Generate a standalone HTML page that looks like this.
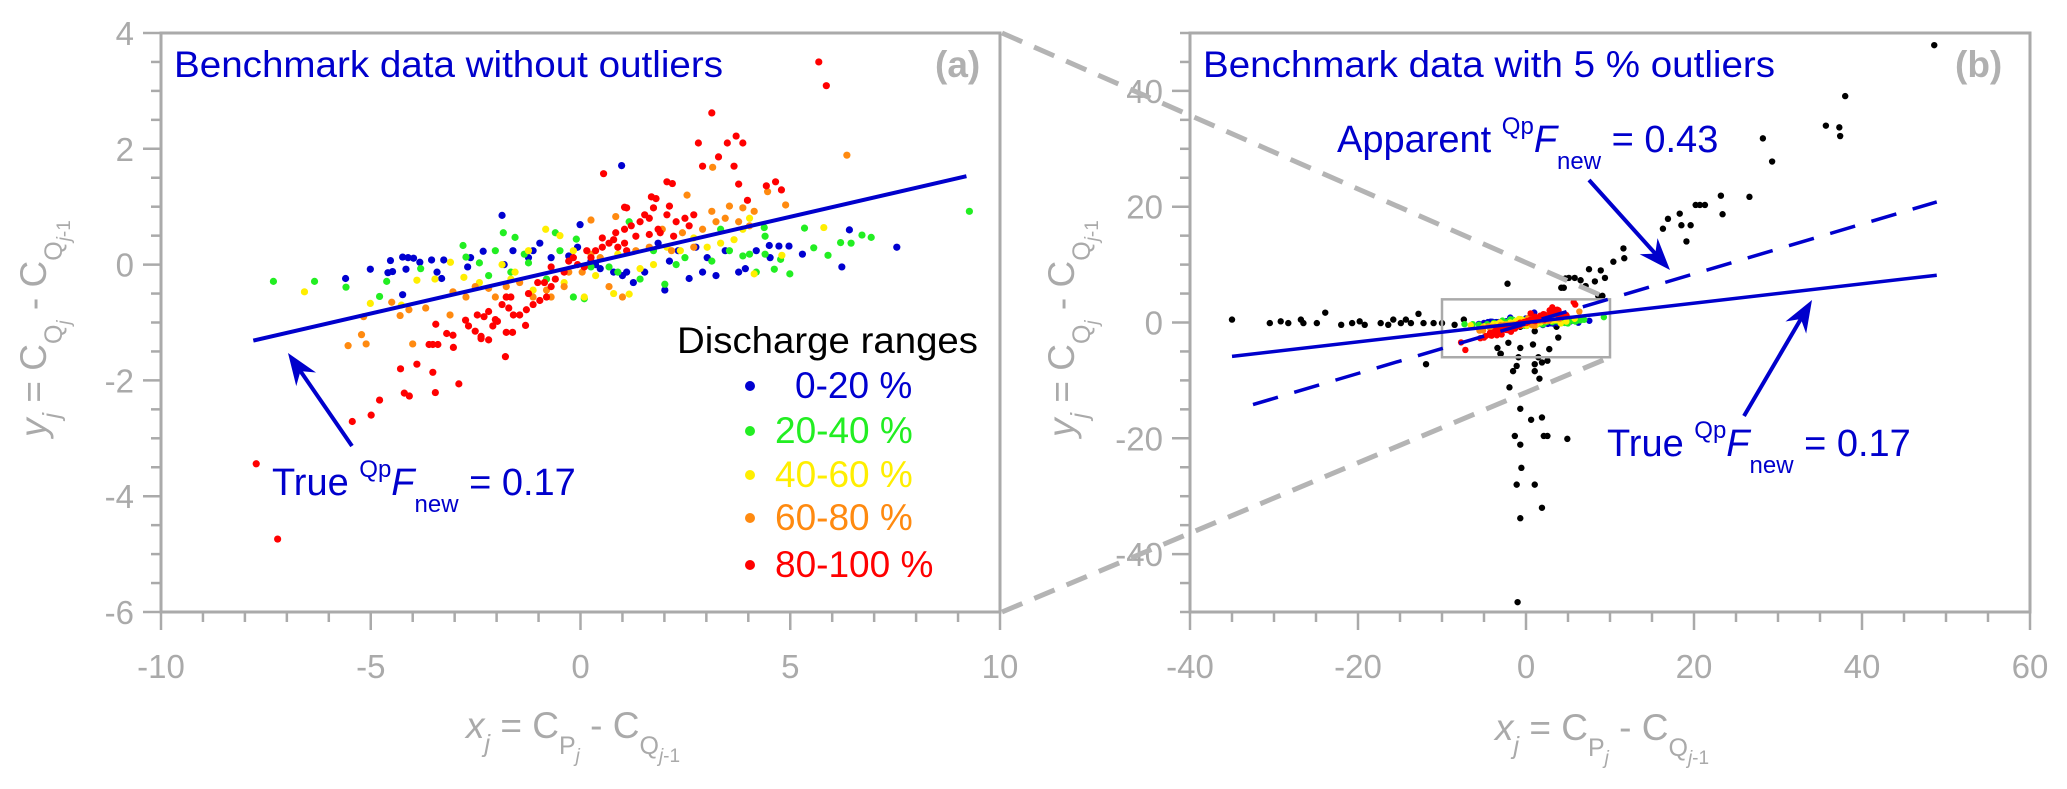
<!DOCTYPE html>
<html><head><meta charset="utf-8"><style>
html,body{margin:0;padding:0;background:#fff;}
svg{display:block;font-family:"Liberation Sans",Arial,sans-serif;}
</style></head><body>
<svg id="fig" width="2067" height="789" viewBox="0 0 2067 789" xmlns="http://www.w3.org/2000/svg">
<g id="panelA"></g>
<g id="panelB"></g>
<g id="connectors"></g>
<g id="annot"></g>
</svg>
<script>
// ---- data (x, y) per discharge range ----
const range0to20 = [[-5.6,-0.24],[-5.01,-0.08],[-4.53,0.07],[-4.24,0.13],[-4.11,0.12],[-3.98,0.11],[-3.83,0.04],[-4.59,-0.14],[-4.48,-0.12],[-4.16,-0.08],[-4.24,-0.52],[-3.55,0.08],[-3.26,0.08],[-3.42,-0.13],[-3.31,-0.24],[-2.69,-0.04],[-2.32,0.23],[-1.87,0.85],[-1.82,0.0],[-1.61,0.24],[-1.13,0.24],[-0.97,0.37],[-0.7,0.12],[-0.28,0.15],[-0.01,0.69],[0.98,1.71],[-0.07,0.3],[0.25,0.06],[0.47,-0.07],[0.79,-0.13],[1.0,-0.19],[1.26,-0.31],[1.53,-0.13],[2.01,-0.44],[2.12,0.06],[2.33,0.24],[2.59,-0.24],[2.91,-0.13],[3.23,-0.19],[3.45,0.24],[3.77,-0.13],[3.93,-0.07],[4.19,0.24],[3.02,0.12],[2.75,0.3],[1.1,-0.13],[1.85,0.37],[0.36,0.0],[-1.24,0.12],[-2.62,0.12],[6.41,0.6],[7.54,0.3],[6.23,-0.04],[5.29,0.18],[4.97,0.32],[4.73,0.32],[4.52,0.12],[4.5,0.33]];
const range20to40 = [[-7.32,-0.29],[-6.34,-0.29],[-5.59,-0.39],[-4.62,-0.29],[-4.79,-0.55],[-3.81,-0.07],[-2.8,0.33],[-2.73,0.13],[-2.03,0.24],[-1.84,0.55],[-1.56,0.47],[-1.66,-0.13],[-2.41,0.03],[-1.24,0.03],[-0.6,0.55],[-0.1,0.44],[0.25,-0.04],[0.68,-0.04],[1.16,0.74],[0.89,-0.13],[1.42,-0.25],[1.74,0.24],[2.01,-0.34],[2.28,0.0],[2.49,0.12],[3.13,0.06],[3.34,0.61],[3.55,0.24],[3.87,0.15],[4.03,0.18],[4.19,-0.13],[-0.49,0.24],[-0.81,-0.25],[-2.19,-0.19],[-1.34,0.18],[0.09,-0.59],[-0.17,-0.56],[5.34,0.63],[5.56,0.29],[5.9,0.16],[6.2,0.38],[6.45,0.37],[6.71,0.51],[6.93,0.47],[4.99,-0.16],[4.62,-0.08],[4.77,0.09],[4.4,0.18],[4.4,0.49],[4.38,0.64],[9.27,0.92]];
const range40to60 = [[-6.58,-0.47],[-5.01,-0.67],[-4.27,-0.7],[-3.9,-0.27],[-3.47,-0.25],[-3.1,0.04],[-2.78,-0.22],[-2.41,-0.31],[-1.66,-0.25],[-1.56,-0.13],[-1.24,0.24],[-0.83,0.61],[-0.49,0.5],[-0.39,-0.31],[0.09,-0.56],[0.36,-0.19],[0.79,-0.5],[1.16,-0.51],[1.42,-0.07],[1.74,0.0],[2.06,0.3],[2.38,0.24],[2.7,0.46],[3.02,0.3],[3.34,0.37],[3.66,0.43],[3.87,0.61],[4.03,0.8],[4.14,-0.16],[0.89,0.18],[-1.13,-0.44],[-1.87,0.0],[-0.17,0.24],[5.8,0.64],[4.8,0.16]];
const range60to80 = [[-5.54,-1.4],[-5.22,-1.21],[-5.11,-1.37],[-5.17,-0.9],[-4.5,-0.65],[-4.3,-0.88],[-4.0,-1.37],[-4.09,-0.78],[-3.69,-0.75],[-3.11,-0.87],[-3.04,-0.47],[-2.73,-0.56],[-2.51,-0.38],[-2.19,-0.41],[-2.03,-0.56],[-1.77,-0.38],[-1.45,-0.31],[-1.13,-0.56],[-0.81,-0.44],[-0.7,-0.56],[-0.39,-0.38],[-0.28,-0.13],[0.04,-0.13],[0.25,0.18],[0.25,0.77],[0.47,0.12],[0.84,0.83],[1.0,-0.56],[1.32,0.24],[1.64,0.3],[1.95,0.61],[2.17,0.24],[2.43,0.55],[2.54,1.2],[2.7,0.3],[2.91,0.61],[3.13,0.92],[3.23,0.74],[3.45,0.8],[3.55,1.01],[3.77,0.74],[3.87,0.98],[4.03,0.67],[4.14,0.92],[3.15,1.68],[0.68,-0.38],[-1.77,-0.56],[6.35,1.89],[4.89,1.03],[4.46,1.26]];
const range80to100 = [[-7.73,-3.44],[-7.22,-4.74],[-5.44,-2.71],[-4.99,-2.6],[-4.79,-2.34],[-4.29,-1.8],[-3.9,-1.72],[-4.2,-2.22],[-4.08,-2.27],[-3.52,-1.86],[-3.46,-2.21],[-2.9,-2.06],[-1.79,-1.59],[-3.61,-1.38],[-3.52,-1.38],[-3.4,-1.38],[-3.03,-1.43],[-3.19,-1.19],[-3.04,-1.22],[-3.45,-1.03],[-2.74,-0.96],[-2.67,-1.06],[-2.51,-1.15],[-2.37,-1.24],[-2.37,-1.28],[-1.77,-1.17],[-1.62,-1.17],[-1.31,-1.05],[-2.3,-0.9],[-2.19,-0.81],[-2.03,-0.95],[-1.98,-0.98],[-2.46,-0.87],[-1.87,-0.69],[-1.71,-0.75],[-1.6,-0.87],[-1.77,-0.56],[-1.45,-0.87],[-1.29,-0.78],[-1.13,-0.69],[-0.97,-0.62],[-0.81,-0.56],[-0.7,-0.38],[-0.86,-0.31],[-0.39,-0.13],[-0.28,0.06],[-0.07,0.0],[0.09,-0.04],[0.25,0.12],[0.36,0.24],[0.52,0.3],[0.68,0.37],[0.89,0.3],[1.05,0.37],[1.1,0.24],[0.79,0.43],[1.21,0.67],[1.42,0.74],[1.53,0.86],[1.64,0.8],[1.8,1.14],[1.74,0.98],[1.85,0.61],[2.06,0.86],[2.12,1.01],[2.28,0.74],[2.49,0.8],[2.59,0.67],[2.7,0.86],[2.81,2.1],[2.91,1.7],[3.13,2.62],[3.29,1.86],[3.5,2.1],[3.66,1.7],[3.71,2.22],[3.77,1.39],[3.87,2.1],[3.98,1.11],[0.55,1.57],[1.05,0.99],[1.1,0.98],[2.06,1.43],[2.19,1.4],[1.69,1.17],[-2.19,-1.3],[-2.09,-1.06],[-1.66,-0.56],[-1.24,-0.5],[-1.02,-0.31],[-0.6,-0.25],[-0.7,-0.04],[-0.17,0.12],[0.15,0.24],[0.52,0.46],[0.84,0.55],[1.05,0.61],[1.32,0.49],[1.64,0.52],[1.9,0.55],[2.22,0.49],[5.68,3.5],[5.86,3.09],[4.65,1.43],[4.79,1.29],[4.43,1.36]];
const outliers = [[-35.0,0.5],[-30.5,-0.1],[-29.2,0.2],[-28.3,-0.1],[-26.8,0.5],[-26.5,-0.1],[-24.9,-0.1],[-23.9,1.7],[-22.0,-0.4],[-20.7,-0.1],[-19.8,0.2],[-19.2,-0.4],[-17.3,-0.1],[-16.4,-0.4],[-15.8,0.5],[-14.9,-0.1],[-14.3,0.5],[-13.7,-0.1],[-12.8,1.5],[-12.2,-0.1],[-11.0,-0.1],[-10.0,-0.1],[-8.5,-0.4],[-7.4,0.5],[-11.9,-7.2],[-2.2,6.7],[48.6,47.9],[38.0,39.1],[35.7,34.0],[37.3,33.7],[37.4,32.2],[28.2,31.8],[29.3,27.8],[23.2,21.9],[26.6,21.7],[20.2,20.3],[20.7,20.3],[21.3,20.3],[23.4,18.7],[16.9,17.9],[18.3,18.8],[16.3,16.2],[18.5,16.8],[19.6,16.8],[19.1,14.0],[11.6,12.8],[10.4,10.5],[11.7,11.1],[7.5,9.2],[8.9,9.0],[8.2,7.1],[9.4,7.7],[6.5,7.3],[5.8,7.7],[5.1,7.7],[4.7,7.6],[4.2,6.0],[4.5,6.0],[7.1,6.3],[8.6,4.6],[9.1,4.6],[3.63,-0.74],[3.84,-2.6],[1.04,-1.5],[-0.68,-0.74],[0.83,-3.8],[-0.68,-4.4],[2.77,-4.6],[-0.9,-6.0],[1.47,-6.0],[2.55,-6.6],[1.9,-6.9],[1.04,-7.2],[-1.11,-7.5],[-1.54,-8.4],[1.04,-8.4],[1.6,-9.7],[-1.97,-11.2],[-0.68,-14.9],[0.61,-16.8],[1.9,-16.4],[-1.33,-19.6],[-0.68,-21.1],[2.12,-19.6],[2.55,-19.6],[4.92,-20.1],[-0.55,-25.1],[-1.11,-28.0],[1.04,-28.0],[1.9,-32.0],[-0.68,-33.8],[-3.05,-5.4],[-3.4,-4.4],[-2.1,-3.5],[-3.0,-5.4],[-1.0,-48.3]];
const fitTrueSlope = 0.167, fitTrueIntercept = -0.01;
const fitApparentSlope = 0.43, fitApparentIntercept = -0.2;
const lineAxRange = [-7.8, 9.2];
const lineBxRange = [-35.0, 48.9];
const lineBappRange = [-32.5, 48.9];
const ticksAx = [-10,-5,0,5,10], ticksAy = [4,2,0,-2,-4,-6];
const ticksBx = [-40,-20,0,20,40,60], ticksBy = [40,20,0,-20,-40];
const legendLabels = ["0-20 %","20-40 %","40-60 %","60-80 %","80-100 %"];
const colors = ["#0000d0","#22ee22","#ffee00","#ff8a10","#ff0000"];
const series = [range0to20, range20to40, range40to60, range60to80, range80to100];

const NS="http://www.w3.org/2000/svg";
function mk(tag, attrs, parent){const e=document.createElementNS(NS,tag);for(const k in attrs)e.setAttribute(k,attrs[k]);parent.appendChild(e);return e;}
const GRAY="#aaaaaa", BLUE="#0000cc";

function panel(g, o){
  const sx=v=>o.x0+(v-o.xmin)/(o.xmax-o.xmin)*(o.x1-o.x0);
  const sy=v=>o.y1-(v-o.ymin)/(o.ymax-o.ymin)*(o.y1-o.y0);
  // minor/major ticks
  for(let v=o.xmin; v<=o.xmax+1e-9; v+=o.xminor){
    const major=Math.abs(v/o.xmajor-Math.round(v/o.xmajor))<1e-6;
    const t=mk('line',{x1:sx(v),x2:sx(v),y1:o.y1,y2:o.y1+(major?18:10),stroke:GRAY,'stroke-width':2.5},g);
    
    
  }
  for(let v=o.ymin; v<=o.ymax+1e-9; v+=o.yminor){
    const major=Math.abs(v/o.ymajor-Math.round(v/o.ymajor))<1e-6;
    const t=mk('line',{y1:sy(v),y2:sy(v),x1:o.x0,x2:o.x0-(major?18:10),stroke:GRAY,'stroke-width':2.5},g);
    
    
  }
  o.xt.forEach(v=>{const t=mk('text',{x:sx(v),y:678,'text-anchor':'middle','font-size':33,fill:GRAY},g);t.textContent=v;
    
    });
  o.yt.forEach(v=>{const t=mk('text',{x:o.x0-27,y:sy(v)+12,'text-anchor':'end','font-size':33,fill:GRAY},g);t.textContent=v;
    
    });
  const f=mk('rect',{x:o.x0,y:o.y0,width:o.x1-o.x0,height:o.y1-o.y0,fill:'none',stroke:GRAY,'stroke-width':3},g);
  
  
  return {sx,sy};
}

const gA=document.getElementById('panelA'), gB=document.getElementById('panelB');
const A=panel(gA,{x0:161,x1:1000,y0:33,y1:612,xmin:-10,xmax:10,ymin:-6,ymax:4,xminor:1,xmajor:5,yminor:0.5,ymajor:2,xt:ticksAx,yt:ticksAy});
const B=panel(gB,{x0:1190,x1:2030,y0:33,y1:612,xmin:-40,xmax:60,ymin:-50,ymax:50,xminor:5,xmajor:20,yminor:5,ymajor:20,xt:ticksBx,yt:ticksBy});

// panel A points
series.forEach((s,i)=>s.forEach(p=>{
  const c=mk('circle',{cx:A.sx(p[0]),cy:A.sy(p[1]),r:3.6,fill:colors[i]},gA);
  
  
}));
// true line A
{const l=mk('line',{x1:A.sx(lineAxRange[0]),y1:A.sy(fitTrueSlope*lineAxRange[0]+fitTrueIntercept),x2:A.sx(lineAxRange[1]),y2:A.sy(fitTrueSlope*lineAxRange[1]+fitTrueIntercept),stroke:BLUE,'stroke-width':4},gA);
 
 }

// panel B
outliers.forEach(p=>{
  const c=mk('circle',{cx:B.sx(p[0]),cy:B.sy(p[1]),r:3.2,fill:'#000'},gB);
  
  
});
series.forEach((s,i)=>s.forEach(p=>{
  const c=mk('circle',{cx:B.sx(p[0]),cy:B.sy(p[1]),r:3.2,fill:colors[i]},gB);
  
  
}));
{const r=mk('rect',{x:B.sx(-10),y:B.sy(4),width:B.sx(10)-B.sx(-10),height:B.sy(-6)-B.sy(4),fill:'none',stroke:GRAY,'stroke-width':2.5},gB);
 
 }
{const l=mk('line',{x1:B.sx(lineBxRange[0]),y1:B.sy(fitTrueSlope*lineBxRange[0]),x2:B.sx(lineBxRange[1]),y2:B.sy(fitTrueSlope*lineBxRange[1]),stroke:BLUE,'stroke-width':3.5},gB);
 
 }
{const l=mk('line',{x1:B.sx(lineBappRange[0]),y1:B.sy(fitApparentSlope*lineBappRange[0]+fitApparentIntercept),x2:B.sx(lineBappRange[1]),y2:B.sy(fitApparentSlope*lineBappRange[1]+fitApparentIntercept),stroke:BLUE,'stroke-width':3.5,'stroke-dasharray':'26 17'},gB);
 
 }

// connectors
const gC=document.getElementById('connectors');
[[1002,33,B.sx(10),B.sy(4)],[1002,612,B.sx(10),B.sy(-6)]].forEach(c=>{
  const l=mk('line',{x1:c[0],y1:c[1],x2:c[2],y2:c[3],stroke:'#b4b4b4','stroke-width':5,'stroke-dasharray':'22 13'},gC);
  
  
});

// arrows
const gN=document.getElementById('annot');
function arrow(x1,y1,x2,y2,name){
  const g=mk('g',{},gN);
  
  
  const dx=x2-x1,dy=y2-y1,L=Math.hypot(dx,dy),ux=dx/L,uy=dy/L,px=-uy,py=ux;
  const bx=x2-ux*32,by=y2-uy*32;
  mk('line',{x1:x1,y1:y1,x2:x2-ux*20,y2:y2-uy*20,stroke:BLUE,'stroke-width':4},g);
  mk('polygon',{points:`${x2},${y2} ${bx+px*12},${by+py*12} ${x2-ux*22},${y2-uy*22} ${bx-px*12},${by-py*12}`,fill:BLUE},g);
}
arrow(352,446,288,353,'arrow-true-a');
arrow(1589,180,1670,270,'arrow-apparent-b');
arrow(1744,416,1812,300,'arrow-true-b');
</script>
<svg style="position:absolute;left:0;top:0" width="2067" height="789" font-family="Liberation Sans, Arial, sans-serif">
  <text x="174" y="77" font-size="37" fill="#0000cc" textLength="549" lengthAdjust="spacingAndGlyphs">Benchmark data without outliers</text>
  <text x="935" y="77" font-size="37" font-weight="bold" fill="#b0b0b0">(a)</text>
  <text x="1203" y="77" font-size="37" fill="#0000cc" textLength="572" lengthAdjust="spacingAndGlyphs">Benchmark data with 5 % outliers</text>
  <text x="1955" y="77" font-size="37" font-weight="bold" fill="#b0b0b0">(b)</text>

  <text x="677" y="353" font-size="37" fill="#000" textLength="301" lengthAdjust="spacingAndGlyphs">Discharge ranges</text>
  <g><circle cx="750" cy="386" r="5" fill="#0000d0"/><text x="795" y="398" font-size="37" fill="#0000d0">0-20 %</text></g>
  <g><circle cx="750" cy="431" r="5" fill="#22ee22"/><text x="775" y="443" font-size="37" fill="#22ee22">20-40 %</text></g>
  <g><circle cx="750" cy="475" r="5" fill="#ffee00"/><text x="775" y="487" font-size="37" fill="#ffee00">40-60 %</text></g>
  <g><circle cx="750" cy="518" r="5" fill="#ff8a10"/><text x="775" y="530" font-size="37" fill="#ff8a10">60-80 %</text></g>
  <g><circle cx="750" cy="565" r="5" fill="#ff0000"/><text x="775" y="577" font-size="37" fill="#ff0000">80-100 %</text></g>

  <text x="272" y="495" font-size="38" fill="#0000cc">True <tspan font-size="24" dy="-18">Qp</tspan><tspan font-style="italic" dy="18">F</tspan><tspan font-size="24" dy="17">new</tspan><tspan dy="-17"> = 0.17</tspan></text>
  <text x="1337" y="152" font-size="38" fill="#0000cc">Apparent <tspan font-size="24" dy="-18">Qp</tspan><tspan font-style="italic" dy="18">F</tspan><tspan font-size="24" dy="17">new</tspan><tspan dy="-17"> = 0.43</tspan></text>
  <text x="1607" y="456" font-size="38" fill="#0000cc">True <tspan font-size="24" dy="-18">Qp</tspan><tspan font-style="italic" dy="18">F</tspan><tspan font-size="24" dy="17">new</tspan><tspan dy="-17"> = 0.17</tspan></text>

  <text x="466" y="738" font-size="37" fill="#aaaaaa"><tspan font-style="italic">x</tspan><tspan font-size="25" font-style="italic" dy="14">j</tspan><tspan dy="-14"> = C</tspan><tspan font-size="25" dy="16">P</tspan><tspan font-size="19" font-style="italic" dy="8">j</tspan><tspan dy="-24"> - C</tspan><tspan font-size="25" dy="16">Q</tspan><tspan font-size="19" font-style="italic" dy="8">j</tspan><tspan font-size="19" dy="0">-1</tspan></text>
  <text x="1495" y="740" font-size="37" fill="#aaaaaa"><tspan font-style="italic">x</tspan><tspan font-size="25" font-style="italic" dy="14">j</tspan><tspan dy="-14"> = C</tspan><tspan font-size="25" dy="16">P</tspan><tspan font-size="19" font-style="italic" dy="8">j</tspan><tspan dy="-24"> - C</tspan><tspan font-size="25" dy="16">Q</tspan><tspan font-size="19" font-style="italic" dy="8">j</tspan><tspan font-size="19" dy="0">-1</tspan></text>

  <text transform="translate(46,437) rotate(-90)" font-size="37" fill="#aaaaaa"><tspan font-style="italic">y</tspan><tspan font-size="25" font-style="italic" dy="14">j</tspan><tspan dy="-14"> = C</tspan><tspan font-size="25" dy="16">Q</tspan><tspan font-size="19" font-style="italic" dy="8">j</tspan><tspan dy="-24"> - C</tspan><tspan font-size="25" dy="16">Q</tspan><tspan font-size="19" font-style="italic" dy="8">j</tspan><tspan font-size="19">-1</tspan></text>
  <text transform="translate(1074,437) rotate(-90)" font-size="37" fill="#aaaaaa"><tspan font-style="italic">y</tspan><tspan font-size="25" font-style="italic" dy="14">j</tspan><tspan dy="-14"> = C</tspan><tspan font-size="25" dy="16">Q</tspan><tspan font-size="19" font-style="italic" dy="8">j</tspan><tspan dy="-24"> - C</tspan><tspan font-size="25" dy="16">Q</tspan><tspan font-size="19" font-style="italic" dy="8">j</tspan><tspan font-size="19">-1</tspan></text>
</svg>
</body></html>
